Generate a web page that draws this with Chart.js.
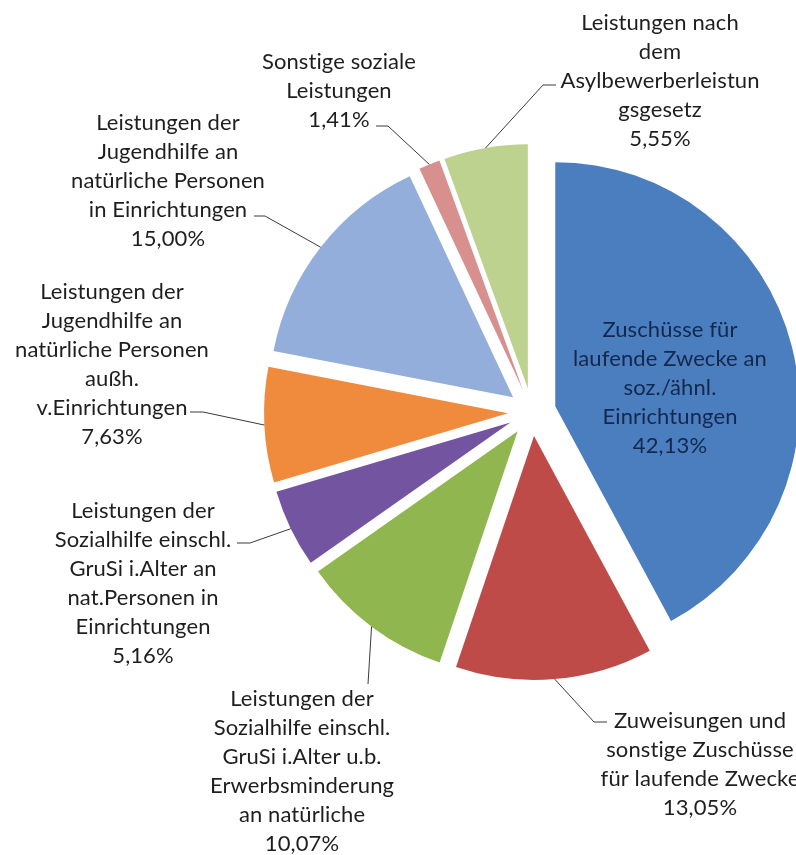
<!DOCTYPE html>
<html>
<head>
<meta charset="utf-8">
<script src="https://cdn.jsdelivr.net/npm/chart.js@4"></script>
<style>
  html, body { margin: 0; padding: 0; background: #ffffff; }
  #wrap { width: 796px; height: 855px; position: relative; }
</style>
</head>
<body>
<div id="wrap"><canvas id="chart"></canvas></div>
<script>
// data
const categories = [
  ["Zuschüsse für", "laufende Zwecke an", "soz./ähnl.", "Einrichtungen"],
  ["Zuweisungen und", "sonstige Zuschüsse", "für laufende Zwecke"],
  ["Leistungen der", "Sozialhilfe einschl.", "GruSi i.Alter u.b.", "Erwerbsminderung", "an natürliche"],
  ["Leistungen der", "Sozialhilfe einschl.", "GruSi i.Alter an", "nat.Personen in", "Einrichtungen"],
  ["Leistungen der", "Jugendhilfe an", "natürliche Personen", "außh.", "v.Einrichtungen"],
  ["Leistungen der", "Jugendhilfe an", "natürliche Personen", "in Einrichtungen"],
  ["Sonstige soziale", "Leistungen"],
  ["Leistungen nach", "dem", "Asylbewerberleistun", "gsgesetz"]
];
const shares = [42.13, 13.05, 10.07, 5.16, 7.63, 15.00, 1.41, 5.55];

const colors = ["#4A7EBF", "#BE4B48", "#8FB64F", "#7254A0", "#F08B3E", "#93AEDA", "#D8908E", "#BDD28F"];

// label block: centre x, first line y, leader points from the text side (slice end is computed)
const labelPos = [
  { x: 670, y: 330, inside: true, leader: [] },
  { x: 700, y: 721, leader: [[607, 722], [594, 722]] },
  { x: 302, y: 699, leader: [[368, 684]] },
  { x: 143, y: 511, leader: [[237, 543], [250, 543]] },
  { x: 112, y: 292, leader: [[190, 412], [203, 412]] },
  { x: 168, y: 123, leader: [[254, 216], [265, 216]] },
  { x: 339, y: 62, leader: [[376, 126], [388, 126]] },
  { x: 660, y: 23, leader: [[556, 85], [543, 85]] }
];

const explode = 24;
const pieRadius = 244;
const lineH = 29;

function fmt(v) {
  return v.toFixed(2).replace(".", ",") + "%";
}

const explodePlugin = {
  id: "explode",
  afterDatasetsUpdate(chart) {
    const arcs = chart.getDatasetMeta(0).data;
    arcs.forEach(a => {
      const mid = (a.startAngle + a.endAngle) / 2;
      a.x += Math.cos(mid) * explode;
      a.y += Math.sin(mid) * explode;
    });
  }
};

const labelPlugin = {
  id: "pieLabels",
  afterDatasetsDraw(chart) {
    const ctx = chart.ctx;
    const arcs = chart.getDatasetMeta(0).data;
    ctx.save();
    ctx.font = "22px Lato";
    // small spacing keeps Lato from joining "ti"
    ctx.letterSpacing = "0.1px";
    ctx.textAlign = "center";
    ctx.textBaseline = "middle";
    arcs.forEach((a, i) => {
      const p = labelPos[i];
      const lines = categories[i].concat([fmt(shares[i])]);
      ctx.fillStyle = p.inside ? "#13284C" : "#1E1E1E";
      lines.forEach((t, k) => ctx.fillText(t, p.x, p.y + k * lineH));
      if (p.leader.length) {
        const mid = (a.startAngle + a.endAngle) / 2;
        const ex = a.x + Math.cos(mid) * a.outerRadius;
        const ey = a.y + Math.sin(mid) * a.outerRadius;
        ctx.strokeStyle = "#3A3A3A";
        ctx.lineWidth = 1;
        ctx.beginPath();
        ctx.moveTo(p.leader[0][0], p.leader[0][1]);
        p.leader.slice(1).forEach(q => ctx.lineTo(q[0], q[1]));
        ctx.lineTo(ex, ey);
        ctx.stroke();
      }
    });
    ctx.restore();
  }
};

const ctx = document.getElementById("chart").getContext("2d");
new Chart(ctx, {
  type: "pie",
  data: {
    labels: categories.map(c => c.join(" ")),
    datasets: [{
      data: shares,
      backgroundColor: colors,
      borderWidth: 0,
      radius: pieRadius
    }]
  },
  options: {
    responsive: true,
    maintainAspectRatio: false,
    animation: false,
    layout: { padding: { left: 268, right: 0, top: 0, bottom: 31 } },
    plugins: {
      legend: { display: false },
      tooltip: { enabled: false }
    }
  },
  plugins: [explodePlugin, labelPlugin]
});
</script>
</body>
</html>
